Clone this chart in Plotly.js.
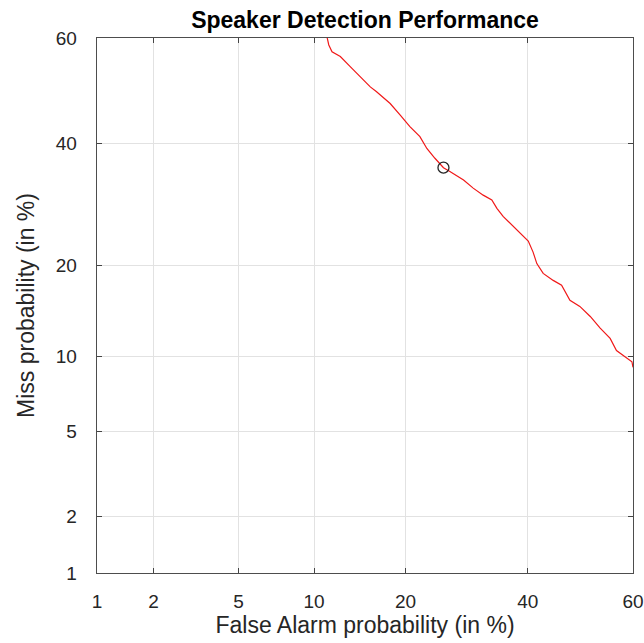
<!DOCTYPE html>
<html>
<head>
<meta charset="utf-8">
<script src="https://cdn.plot.ly/plotly-3.0.1.min.js"></script>
<style>html,body{margin:0;padding:0;background:#fff;}#chart{width:644px;height:643px;}</style>
</head>
<body>
<div id="chart"></div>
<script>
// DET curve values (percent)
const falseAlarm = [11.1, 11.3, 11.6, 12.4, 13.4, 14.4, 15.6, 16.3, 18.0, 19.3, 20.6, 22.0, 23.0, 24.2, 25.5, 26.5, 28.7, 30.3, 32.0, 33.5, 34.4, 35.5, 37.1, 38.6, 40.1, 41.0, 41.7, 42.9, 44.8, 46.4, 48.0, 49.9, 51.9, 53.8, 55.7, 56.9, 58.2, 59.8, 60.0];
const missProb   = [60.5, 58.7, 57.4, 56.5, 54.6, 52.7, 50.7, 49.8, 47.5, 45.3, 43.1, 41.2, 39.0, 37.2, 35.5, 34.8, 33.3, 31.9, 30.7, 29.9, 28.5, 27.2, 25.8, 24.5, 23.4, 21.8, 20.2, 18.9, 18.0, 17.4, 15.6, 14.9, 13.8, 12.6, 11.6, 10.5, 10.1, 9.55, 9.1];
const opFalseAlarm = [25.5];
const opMiss = [35.5];
const tickPercents = [1, 2, 5, 10, 20, 40, 60];
const tickLabels = ['1', '2', '5', '10', '20', '40', '60'];
const axisLimits = [1, 60];

// inverse normal CDF (Acklam)
function probit(p) {
  const a = [-3.969683028665376e+01, 2.209460984245205e+02, -2.759285104469687e+02, 1.383577518672690e+02, -3.066479806614716e+01, 2.506628277459239e+00];
  const b = [-5.447609879822406e+01, 1.615858368580409e+02, -1.556989798598866e+02, 6.680131188771972e+01, -1.328068155288572e+01];
  const c = [-7.784894002430293e-03, -3.223964580411365e-01, -2.400758277161838e+00, -2.549732539343734e+00, 4.374664141464968e+00, 2.938163982698783e+00];
  const d = [7.784695709041462e-03, 3.224671290700398e-01, 2.445134137142996e+00, 3.754408661907416e+00];
  const pl = 0.02425, ph = 1 - pl;
  let q, r;
  if (p < pl) {
    q = Math.sqrt(-2 * Math.log(p));
    return (((((c[0]*q+c[1])*q+c[2])*q+c[3])*q+c[4])*q+c[5]) / ((((d[0]*q+d[1])*q+d[2])*q+d[3])*q+1);
  } else if (p <= ph) {
    q = p - 0.5; r = q*q;
    return (((((a[0]*r+a[1])*r+a[2])*r+a[3])*r+a[4])*r+a[5])*q / (((((b[0]*r+b[1])*r+b[2])*r+b[3])*r+b[4])*r+1);
  } else {
    q = Math.sqrt(-2 * Math.log(1 - p));
    return -(((((c[0]*q+c[1])*q+c[2])*q+c[3])*q+c[4])*q+c[5]) / ((((d[0]*q+d[1])*q+d[2])*q+d[3])*q+1);
  }
}
const P = v => probit(v / 100);

const font = 'Liberation Sans, Arial, Helvetica, sans-serif';
const tickColor = '#262626';

const axisCommon = {
  range: axisLimits.map(P),
  tickmode: 'array',
  tickvals: tickPercents.map(P),
  ticktext: tickLabels,
  ticks: 'inside',
  ticklen: 5,
  tickwidth: 1,
  tickcolor: '#444',
  showline: true,
  linecolor: '#4d4d4d',
  linewidth: 1.3,
  mirror: 'ticks',
  showgrid: true,
  gridcolor: '#e2e2e2',
  gridwidth: 1,
  zeroline: false,
  tickfont: {family: font, size: 19, color: tickColor},
  fixedrange: true
};

const traces = [
  {
    x: falseAlarm.map(P), y: missProb.map(P),
    type: 'scatter', mode: 'lines',
    line: {color: '#f01818', width: 1.2},
    hoverinfo: 'skip', showlegend: false
  },
  {
    x: opFalseAlarm.map(P), y: opMiss.map(P),
    type: 'scatter', mode: 'markers',
    marker: {symbol: 'circle-open', size: 11, color: '#262626', line: {width: 1.3, color: '#262626'}},
    hoverinfo: 'skip', showlegend: false, cliponaxis: false
  }
];

const layout = {
  width: 644, height: 643,
  margin: {l: 97, r: 11, t: 38, b: 70},
  paper_bgcolor: '#ffffff',
  plot_bgcolor: '#ffffff',
  title: {
    text: '<b>Speaker Detection Performance</b>',
    font: {family: font, size: 23, color: '#000'},
    x: 0.5, xref: 'paper', xanchor: 'center',
    y: 1 - 20/643, yref: 'container', yanchor: 'middle'
  },
  xaxis: Object.assign({}, axisCommon, {
    ticklabelstandoff: 11,
    title: {text: 'False Alarm probability (in %)', font: {family: font, size: 23, color: tickColor}, standoff: 4}
  }),
  yaxis: Object.assign({}, axisCommon, {
    ticklabelstandoff: 15,
    title: {text: 'Miss probability (in %)', font: {family: font, size: 23, color: tickColor}, standoff: 14}
  }),
  showlegend: false
};

Plotly.newPlot('chart', traces, layout, {displayModeBar: false, staticPlot: true});
</script>
</body>
</html>
